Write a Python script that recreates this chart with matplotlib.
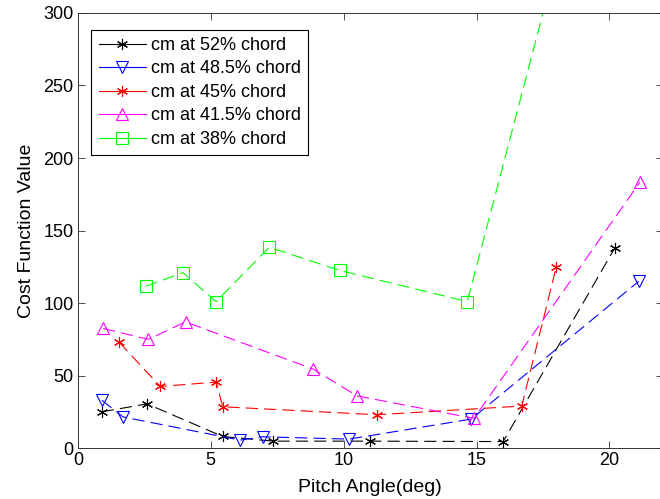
import matplotlib
matplotlib.use("Agg")
import matplotlib.pyplot as plt

plt.rcParams['font.family'] = ['Liberation Sans', 'DejaVu Sans']

# cm at 52% chord
x52 = [0.9, 2.6, 5.45, 7.35, 11.0, 16.0, 20.2]
y52 = [25, 30.5, 8, 4.8, 4.8, 4.5, 138]
# cm at 48.5% chord
x485 = [0.9, 1.7, 6.1, 6.95, 10.2, 14.8, 21.1]
y485 = [33, 21.5, 5.5, 7.8, 6.2, 20, 115]
# cm at 45% chord
x45 = [1.55, 3.1, 5.2, 5.45, 11.25, 16.7, 18.0]
y45 = [73, 42.5, 45.5, 28.5, 23, 29, 125]
# cm at 41.5% chord
x415 = [0.95, 2.65, 4.05, 8.85, 10.5, 14.9, 21.15]
y415 = [82.5, 75, 87, 54.5, 36, 20.5, 183.5]
# cm at 38% chord (last point is above the plotted range)
x38 = [2.55, 3.95, 5.2, 7.2, 9.85, 14.65, 18.0]
y38 = [111.5, 121, 101, 138.5, 122.5, 101, 335]

fig = plt.figure(figsize=(6.6, 4.99), dpi=100)
ax = fig.add_axes([0.118, 0.102, 0.886, 0.872])

asterisk = (6, 2, 0)
common = dict(linestyle=(0, (11, 5.5)), linewidth=0.8, markersize=8, markeredgewidth=0.8)
ax.plot(x52, y52, color='black', marker=asterisk, label='cm at 52% chord', **common)
ax.plot(x485, y485, color='#0000ff', marker='v', markerfacecolor='none', label='cm at 48.5% chord', **common)
ax.plot(x45, y45, color='#ff0000', marker=asterisk, label='cm at 45% chord', **common)
ax.plot(x415, y415, color='#ff00ff', marker='^', markerfacecolor='none', label='cm at 41.5% chord', **common)
ax.plot(x38, y38, color='#00ff00', marker='s', markerfacecolor='none', label='cm at 38% chord', **common)

ax.set_xlim(0, 22)
ax.set_ylim(0, 300)
ax.set_xticks([0, 5, 10, 15, 20])
ax.set_yticks([0, 50, 100, 150, 200, 250, 300])
ax.tick_params(direction='in', top=True, right=True, labelsize=13, length=5, width=0.6,
               color='#333333', pad=3)
for s in ax.spines.values():
    s.set_linewidth(0.7)
    s.set_color('#333333')

ax.set_xlabel('Pitch Angle(deg)', fontsize=14, labelpad=7)
ax.set_ylabel('Cost Function Value', fontsize=14, labelpad=6)

leg = ax.legend(loc='upper left', bbox_to_anchor=(0.017, 0.97), fontsize=13, fancybox=False,
                edgecolor='black', framealpha=1, handlelength=2.6, borderpad=0.4,
                labelspacing=0.36, handletextpad=0.3, borderaxespad=0.2)
leg.get_frame().set_linewidth(0.8)
for line in leg.get_lines():
    line.set_linestyle('-')

fig.savefig('out.png', dpi=100)
